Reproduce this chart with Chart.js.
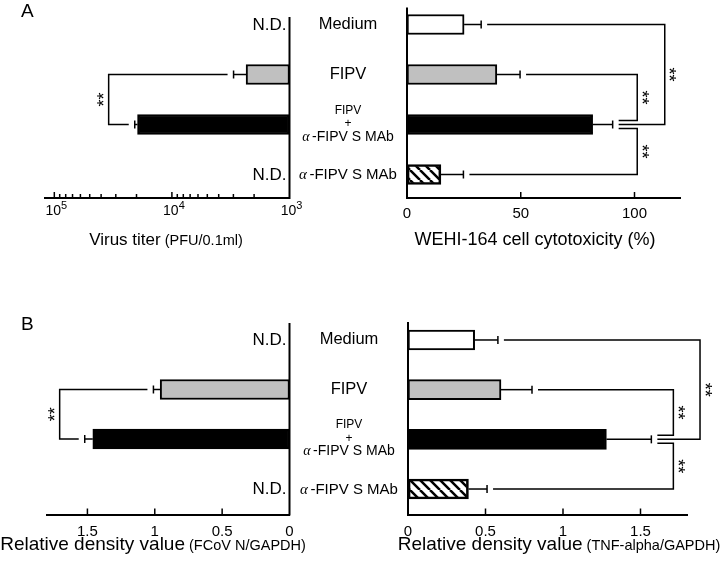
<!DOCTYPE html>
<html>
<head>
<meta charset="utf-8">
<script src="https://cdn.jsdelivr.net/npm/chart.js@4.4.1/dist/chart.umd.min.js"></script>
<style>
  html, body { margin: 0; padding: 0; background: #fff; }
  #fig { position: relative; width: 722px; height: 565px; overflow: hidden; }
  #fig canvas { position: absolute; left: 0; top: 0; }
</style>
</head>
<body>
<div id="fig">
  <canvas id="aTiter" width="722" height="565"></canvas>
  <canvas id="aCyto" width="722" height="565"></canvas>
  <canvas id="bFcov" width="722" height="565"></canvas>
  <canvas id="bTnf" width="722" height="565"></canvas>
</div>
<script>
// Grupos (linhas das barras, de cima para baixo)
const groups = ['Medium', 'FIPV', 'FIPV + α-FIPV S MAb', 'α-FIPV S MAb'];
const groupLines = [['Medium'], ['FIPV'], ['FIPV', '+', 'α-FIPV S MAb'], ['α-FIPV S MAb']];

// A: título viral (PFU/0.1ml), null = N.D.
const titer = [null, 2340, 19600, null];
const titerSd = [null, 650, 1100, null];
const titerTicks = [1000, 2000, 3000, 4000, 5000, 6000, 7000, 8000, 9000,
  10000, 20000, 30000, 40000, 50000, 60000, 70000, 80000, 90000, 100000];
const titerMajor = [1000, 10000, 100000];

// A: citotoxicidade WEHI-164 (%)
const cyto = [25.1, 39.5, 81.6, 14.9];
const cytoSd = [7.5, 10.2, 8.8, 9.9];
const cytoTicks = [0, 50, 100];

// B: FCoV N / GAPDH
const fcov = [null, 0.96, 1.46, null];
const fcovSd = [null, 0.05, 0.06, null];

// B: TNF-alpha / GAPDH
const tnf = [0.43, 0.60, 1.28, 0.39];
const tnfSd = [0.15, 0.20, 0.29, 0.12];
const densityTicks = [0, 0.5, 1, 1.5];

// pares com diferença significativa (**)
const sigTiter = [[1, 2]];
const sigCyto = [[0, 2], [1, 2], [2, 3]];
const sigFcov = [[1, 2]];
const sigTnf = [[0, 2], [1, 2], [2, 3]];

const FONT = '"Liberation Sans", Arial, Helvetica, sans-serif';
const W = 722, H = 565, AXIS_H = 34, GAP = 6;
Chart.defaults.font.family = FONT;
Chart.defaults.color = '#000';

function hatchPattern() {
  const s = 10, c = document.createElement('canvas');
  c.width = s; c.height = s;
  const g = c.getContext('2d');
  g.strokeStyle = '#000';
  g.lineWidth = 2.5;
  g.beginPath();
  for (const d of [-s, 0, s]) { g.moveTo(d, 0); g.lineTo(d + s, s); }
  g.stroke();
  return g.createPattern(c, 'repeat');
}

const fills = ['#ffffff', '#c0c0c0', '#000000', hatchPattern()];

function strokeLine(ctx, x0, y0, x1, y1) {
  ctx.beginPath();
  ctx.moveTo(x0, y0);
  ctx.lineTo(x1, y1);
  ctx.stroke();
}

// texto com trechos de fontes diferentes na mesma linha de base
function drawRun(ctx, parts, x, baseline, align) {
  let total = 0;
  const widths = parts.map(([t, f, g = 0]) => {
    ctx.font = f;
    const w = ctx.measureText(t).width + g;
    total += w;
    return w;
  });
  let cx = align === 'center' ? x - total / 2 : align === 'right' ? x - total : x;
  ctx.textAlign = 'left';
  ctx.textBaseline = 'alphabetic';
  parts.forEach(([t, f], k) => { ctx.font = f; ctx.fillText(t, cx, baseline); cx += widths[k]; });
}

function groupRun(text, size) {
  if (text.startsWith('α')) {
    return [['α', `italic ${size}px "Liberation Serif", serif`, 2.5], [text.slice(1), `${size}px ${FONT}`]];
  }
  return [[text, `${size}px ${FONT}`]];
}

const panels = [
  {
    canvas: 'aTiter', values: titer, sd: titerSd, ticks: titerTicks, major: titerMajor,
    type: 'logarithmic', reverse: true, min: 1000, max: 120000, base: 1000,
    area: { left: 45, right: 289.5, top: 17, bottom: 198 }, rows: [-0.15, 3.47],
    pairs: sigTiter, bracketAt: [34500], bracketOff: [[0, 0]],
    title: [['Virus titer', 17], [' (PFU/0.1ml)', 14.5]], titleX: 166, titleY: 245,
    letter: 'A', letterY: 17, tickPad: 7
  },
  {
    canvas: 'aCyto', values: cyto, sd: cytoSd, ticks: cytoTicks,
    type: 'linear', reverse: false, min: 0, max: 120, base: 0,
    area: { left: 407, right: 680, top: 7.5, bottom: 198 }, rows: [-0.34, 3.47],
    pairs: sigCyto, bracketAt: [113.3, 101.2, 101.2], bracketOff: [[0, 0], [0, -4], [4, 0]],
    title: [['WEHI-164 cell cytotoxicity (%)', 18]], titleX: 535, titleY: 245,
    groups: true, tickPad: 7
  },
  {
    canvas: 'bFcov', values: fcov, sd: fcovSd, ticks: densityTicks,
    type: 'linear', reverse: true, min: 0, max: 1.8, base: 0,
    area: { left: 47, right: 289.5, top: 323, bottom: 514.5 }, rows: [-0.343, 3.525],
    pairs: sigFcov, bracketAt: [1.706], bracketOff: [[0, 0]],
    title: [['Relative density value', 19], [' (FCoV N/GAPDH)', 14.5]], titleX: 153, titleY: 550,
    letter: 'B', letterY: 330, tickPad: 8
  },
  {
    canvas: 'bTnf', values: tnf, sd: tnfSd, ticks: densityTicks,
    type: 'linear', reverse: false, min: 0, max: 1.8, base: 0,
    area: { left: 408, right: 687, top: 322, bottom: 514.5 }, rows: [-0.362, 3.513],
    pairs: sigTnf, bracketAt: [1.884, 1.712, 1.712], bracketOff: [[0, 0], [0, -4], [4, 0]],
    title: [['Relative density value', 19], [' (TNF-alpha/GAPDH)', 14.5]], titleX: 559, titleY: 550,
    groups: true, tickPad: 8
  }
];

function decor(p) {
  return {
    id: 'decor',
    afterDatasetsDraw(chart) {
      const { ctx, chartArea: a } = chart;
      const x = chart.scales.x, y = chart.scales.y;
      const dir = p.reverse ? -1 : 1;
      const basePx = x.getPixelForValue(p.base);
      const errEnd = i => x.getPixelForValue(p.values[i] + p.sd[i]);
      ctx.save();
      ctx.strokeStyle = '#000';
      ctx.fillStyle = '#000';

      // eixo vertical na base das barras
      ctx.lineWidth = 2;
      strokeLine(ctx, basePx, a.top, basePx, a.bottom + 1);

      // marcas de escala para dentro
      ctx.lineWidth = 1.5;
      x.ticks.forEach(t => {
        if (t.value === p.base) return;
        const px = x.getPixelForValue(t.value);
        const len = p.major && !p.major.includes(t.value) ? 4 : 6;
        strokeLine(ctx, px, a.bottom, px, a.bottom - len);
      });

      // rótulos 10^n do eixo log
      if (p.major) {
        p.major.forEach(v => {
          const px = x.getPixelForValue(v);
          const exp = String(Math.round(Math.log10(v)));
          ctx.font = `14px ${FONT}`;
          const w1 = ctx.measureText('10').width;
          ctx.font = `11px ${FONT}`;
          const w2 = ctx.measureText(exp).width;
          const left = px + 2 - (w1 + w2) / 2;
          ctx.textAlign = 'left';
          ctx.textBaseline = 'alphabetic';
          ctx.font = `14px ${FONT}`;
          ctx.fillText('10', left, a.bottom + 17);
          ctx.font = `11px ${FONT}`;
          ctx.fillText(exp, left + w1, a.bottom + 11);
        });
      }

      // barras de erro e N.D.
      p.values.forEach((v, i) => {
        const yc = y.getPixelForValue(i);
        if (v == null) {
          drawRun(ctx, [['N.D.', `17px ${FONT}`]], basePx + dir * 3, yc + 5.5, p.reverse ? 'right' : 'left');
          return;
        }
        const x0 = x.getPixelForValue(v), x1 = errEnd(i);
        ctx.lineWidth = 1.5;
        strokeLine(ctx, x0, yc, x1, yc);
        strokeLine(ctx, x1, yc - 4, x1, yc + 4);
      });

      // colchetes de significância
      p.pairs.forEach(([r0, r1], k) => {
        const bx = x.getPixelForValue(p.bracketAt[k]);
        const [o0, o1] = p.bracketOff[k];
        const y0 = y.getPixelForValue(r0) + o0, y1 = y.getPixelForValue(r1) + o1;
        ctx.lineWidth = 1.5;
        ctx.beginPath();
        ctx.moveTo(errEnd(r0) + dir * GAP, y0);
        ctx.lineTo(bx, y0);
        ctx.lineTo(bx, y1);
        ctx.lineTo(errEnd(r1) + dir * GAP, y1);
        ctx.stroke();
        ctx.save();
        ctx.translate(bx + dir * 3.5, (y0 + y1) / 2);
        ctx.rotate(dir * Math.PI / 2);
        ctx.font = `18px ${FONT}`;
        ctx.textAlign = 'center';
        ctx.textBaseline = 'middle';
        ctx.fillText('**', 0, 0);
        ctx.restore();
      });

      // nomes dos grupos entre os painéis
      if (p.groups) {
        groupLines.forEach((lines, i) => {
          const yc = y.getPixelForValue(i);
          const cx = a.left - 59;
          if (lines.length === 1) {
            const size = lines[0].startsWith('α') ? 15 : 16.5;
            drawRun(ctx, groupRun(lines[0], size), cx, yc + 4.5, 'center');
          } else {
            const offs = [-11, 2.5, 16], sizes = [12, 12, 14];
            lines.forEach((t, j) => drawRun(ctx, groupRun(t, sizes[j]), cx, yc + offs[j], 'center'));
          }
        });
      }

      // título do eixo
      drawRun(ctx, p.title.map(([t, s]) => [t, `${s}px ${FONT}`]), p.titleX, p.titleY, 'center');

      if (p.letter) drawRun(ctx, [[p.letter, `19px ${FONT}`]], 21, p.letterY, 'left');
      ctx.restore();
    }
  };
}

panels.forEach(p => {
  new Chart(document.getElementById(p.canvas), {
    type: 'bar',
    data: {
      labels: groups,
      datasets: [{
        data: p.values.map((v, i) => ({ x: v, y: i })),
        backgroundColor: fills,
        borderColor: '#000',
        borderWidth: 2,
        borderSkipped: false,
        barThickness: 20
      }]
    },
    options: {
      indexAxis: 'y',
      responsive: false,
      animation: false,
      devicePixelRatio: 1,
      layout: {
        padding: { left: p.area.left, right: W - p.area.right, top: p.area.top, bottom: H - p.area.bottom - AXIS_H }
      },
      plugins: { legend: { display: false }, tooltip: { enabled: false } },
      scales: {
        y: { type: 'linear', display: false, reverse: true, offset: false, min: p.rows[0], max: p.rows[1] },
        x: {
          type: p.type, reverse: p.reverse, min: p.min, max: p.max,
          grid: { display: false, drawTicks: false, tickLength: 0 },
          border: { display: true, color: '#000', width: 2 },
          ticks: {
            display: p.type !== 'logarithmic', autoSkip: false, maxRotation: 0,
            padding: p.tickPad, font: { size: 15 }, color: '#000', callback: v => String(v)
          },
          afterBuildTicks: s => { s.ticks = p.ticks.map(v => ({ value: v })); },
          afterFit: s => { s.height = AXIS_H; }
        }
      }
    },
    plugins: [decor(p)]
  });
});
</script>
</body>
</html>
